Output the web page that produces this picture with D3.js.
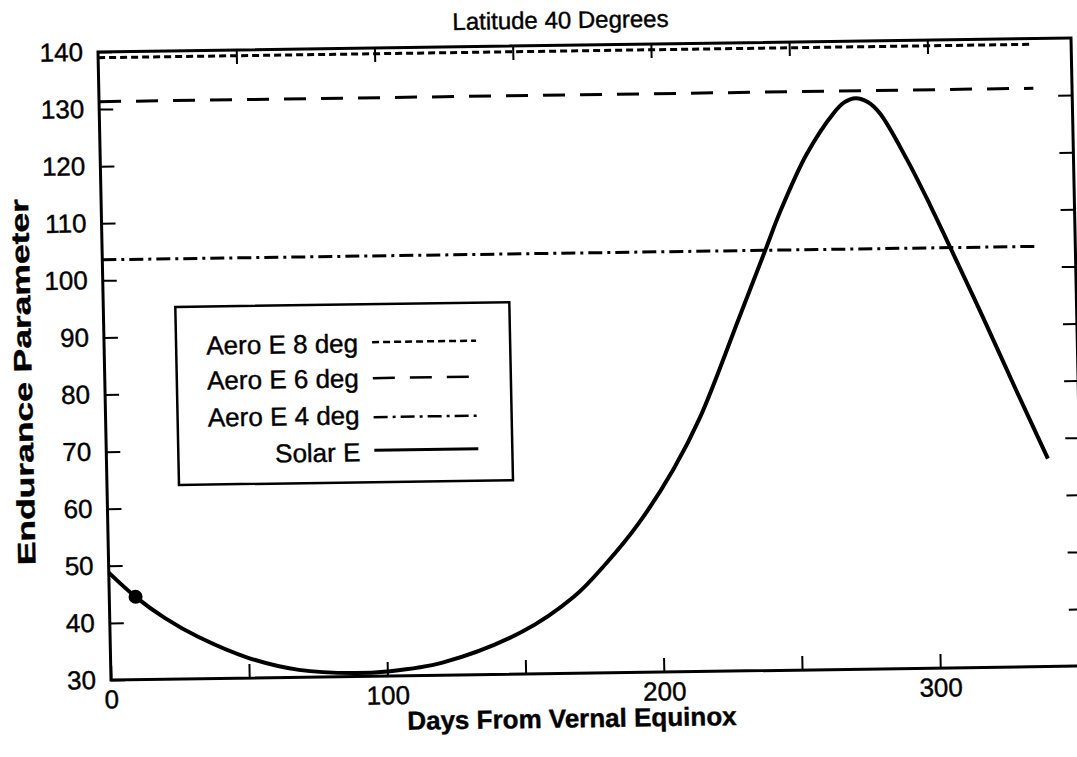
<!DOCTYPE html>
<html>
<head>
<meta charset="utf-8">
<script src="https://cdn.jsdelivr.net/npm/d3@7"></script>
<style>
  html, body { margin: 0; padding: 0; background: #fff; }
  svg { display: block; }
  text { font-family: "Liberation Sans", Arial, Helvetica, sans-serif; fill: #000; stroke: #000; stroke-width: 0.4px; }
</style>
</head>
<body>
<svg id="chart" width="1077" height="757"></svg>
<script>
// ---- chart text ----
const titleText = "Latitude 40 Degrees";
const xAxisTitle = "Days From Vernal Equinox";
const yAxisTitle = "Endurance Parameter";

// ---- solar endurance over the year ----
const solarDays = [0, 9.5, 20, 32, 50, 68, 88, 100, 120, 149, 168, 180, 192, 205, 215, 230, 240, 245.5,
                   255.5, 265.5, 269.5, 273.7, 278, 282.3, 291.6, 299.7, 306.6, 318, 329.5, 340.5];
const solarE    = [48.8, 44.5, 40.7, 37.3, 33.5, 31.3, 30.6, 30.8, 32.2, 37.4, 43.4, 49.2, 56.1, 65.5, 74.5, 92.0, 103.8, 110.3,
                   120.3, 127.4, 129.3, 130.0, 129.3, 127.3, 119.3, 111.2, 103.8, 91.4, 78.5, 66.4];

// highlighted point on the solar curve
const markerDay = 9.5;
const markerE = 44.5;

// ---- aerodynamic endurance (constant over the year) ----
const aeroNames = ["Aero E 8 deg", "Aero E 6 deg", "Aero E 4 deg"];
const aeroE = [139.0, 131.3, 103.6];
const aeroDays = [0, 338];

// ---- legend ----
const legendNames = ["Aero E 8 deg", "Aero E 6 deg", "Aero E 4 deg", "Solar E"];

// ---- axis ticks ----
const xTickValues = [0, 50, 100, 150, 200, 250, 300];
const xDomain = [0, 352];
const yTickValues = [30, 40, 50, 60, 70, 80, 90, 100, 110, 120, 130, 140];
const yDomain = [30, 140];

// line styles per series
const dashFor = {
  "Aero E 8 deg": "7,4",
  "Aero E 6 deg": "22,15",
  "Aero E 4 deg": "14,5,3,5",
  "Solar E": null
};

// ---- layout ----
const plotLeft = 98, plotTop = 52, plotW = 973, plotH = 628;
const svg = d3.select("#chart");

// the printed page sits slightly askew
const g = svg.append("g")
  .attr("transform", `translate(${plotLeft},${plotTop}) matrix(1,-0.01437,0.0207,1,0,0) translate(${-plotLeft},${-plotTop})`);

const x = d3.scaleLinear().domain(xDomain).range([plotLeft, plotLeft + plotW]);
const y = d3.scaleLinear().domain(yDomain).range([plotTop + plotH, plotTop]);

const FONT = '"Liberation Sans", Arial, Helvetica, sans-serif';

function styleAxis(sel, fontSize) {
  sel.select(".domain").remove();
  sel.selectAll(".tick line").attr("stroke", "#000").attr("stroke-width", 2);
  sel.selectAll(".tick text").attr("fill", "#000").style("font-family", FONT).style("font-size", fontSize + "px");
}

// bottom axis with labels on the hundreds
const bottomAxis = g.append("g")
  .attr("transform", `translate(0,${plotTop + plotH})`)
  .call(d3.axisBottom(x).tickValues(xTickValues).tickSizeInner(-14).tickSizeOuter(0).tickPadding(10)
        .tickFormat(d => d % 100 === 0 ? d : ""));
styleAxis(bottomAxis, 26);

// top axis: ticks only
const topAxis = g.append("g")
  .attr("transform", `translate(0,${plotTop})`)
  .call(d3.axisTop(x).tickValues(xTickValues.filter(d => d > 0)).tickSizeInner(-14).tickSizeOuter(0).tickFormat(""));
styleAxis(topAxis, 26);

// left axis with labels
const leftAxis = g.append("g")
  .attr("transform", `translate(${plotLeft},0)`)
  .call(d3.axisLeft(y).tickValues(yTickValues).tickSizeInner(-14).tickSizeOuter(0).tickPadding(15));
styleAxis(leftAxis, 26);

// right axis: ticks only
const rightAxis = g.append("g")
  .attr("transform", `translate(${plotLeft + plotW},0)`)
  .call(d3.axisRight(y).tickValues(yTickValues.filter(d => d > 30 && d < 140)).tickSizeInner(-14).tickSizeOuter(0).tickFormat(""));
styleAxis(rightAxis, 26);

// plot frame
g.append("rect")
  .attr("x", x(xDomain[0])).attr("y", y(yDomain[1]))
  .attr("width", x(xDomain[1]) - x(xDomain[0]))
  .attr("height", y(yDomain[0]) - y(yDomain[1]))
  .attr("fill", "none").attr("stroke", "#000").attr("stroke-width", 3);

// constant aerodynamic lines
aeroNames.forEach((name, i) => {
  g.append("line")
    .attr("x1", x(aeroDays[0])).attr("x2", x(aeroDays[1]))
    .attr("y1", y(aeroE[i])).attr("y2", y(aeroE[i]))
    .attr("stroke", "#000").attr("stroke-width", 3)
    .attr("stroke-dasharray", dashFor[name]);
});

// solar curve
const solarPts = solarDays.map((d, i) => [d, solarE[i]]);
g.append("path")
  .datum(solarPts)
  .attr("fill", "none").attr("stroke", "#000").attr("stroke-width", 4)
  .attr("d", d3.line().x(d => x(d[0])).y(d => y(d[1])).curve(d3.curveCatmullRom.alpha(0.5)));

g.append("circle")
  .attr("cx", x(markerDay)).attr("cy", y(markerE)).attr("r", 7)
  .attr("fill", "#000");

// legend
const legX = 170, legY = 308, legW = 334, legH = 178;
g.append("rect")
  .attr("x", legX).attr("y", legY).attr("width", legW).attr("height", legH)
  .attr("fill", "#fff").attr("stroke", "#000").attr("stroke-width", 2.5);

const rowBase = [356, 391, 428, 465];
const rowLine = [346, 382, 421, 454];
legendNames.forEach((name, i) => {
  g.append("text")
    .attr("x", 352).attr("y", rowBase[i])
    .attr("text-anchor", "end")
    .style("font-size", "26px")
    .text(name);
  g.append("line")
    .attr("x1", 366).attr("x2", 470)
    .attr("y1", rowLine[i]).attr("y2", rowLine[i])
    .attr("stroke", "#000").attr("stroke-width", name === "Solar E" ? 3 : 2.5)
    .attr("stroke-dasharray", dashFor[name]);
});

// titles
g.append("text")
  .attr("x", 561).attr("y", 35)
  .attr("text-anchor", "middle")
  .style("font-size", "24px")
  .text(titleText);

g.append("text")
  .attr("x", 558).attr("y", 734)
  .attr("text-anchor", "middle")
  .style("font-size", "26px").style("font-weight", "bold")
  .text(xAxisTitle);

g.append("text")
  .attr("transform", "translate(25,381) rotate(-90)")
  .attr("text-anchor", "middle")
  .attr("textLength", 366).attr("lengthAdjust", "spacingAndGlyphs")
  .style("font-size", "25px").style("font-weight", "bold")
  .text(yAxisTitle);
</script>
</body>
</html>
